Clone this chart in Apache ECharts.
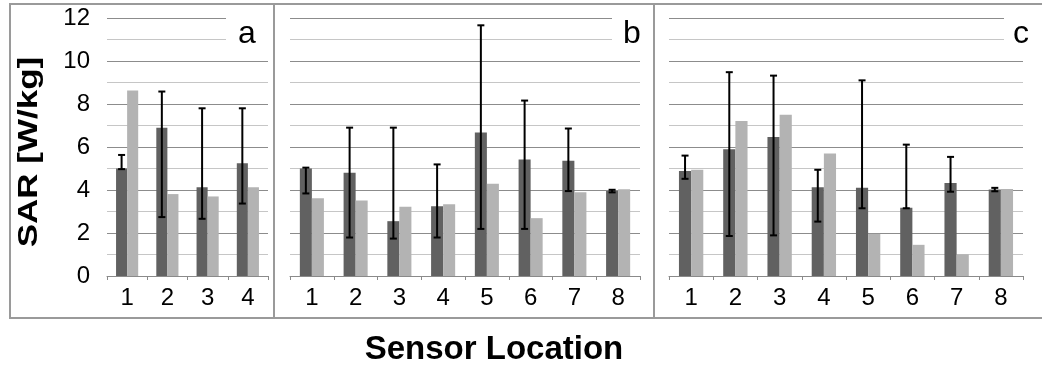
<!DOCTYPE html>
<html>
<head>
<meta charset="utf-8">
<script src="https://cdn.jsdelivr.net/npm/echarts@6/dist/echarts.min.js"></script>
<style>html,body{margin:0;padding:0;background:#fff;}#c{width:1042px;height:366px;}</style>
</head>
<body>
<div id="c"></div>
<script>
// Categories
var catsA = ['1','2','3','4'];
var catsBC = ['1','2','3','4','5','6','7','8'];
// Panel a
var aDark  = [5.0, 6.89, 4.13, 5.25];
var aLight = [8.63, 3.81, 3.70, 4.13];
var aLow   = [4.97, 2.74, 2.66, 3.37];
var aHigh  = [5.63, 8.58, 7.80, 7.80];
// Panel b
var bDark  = [5.0, 4.8, 2.55, 3.25, 6.68, 5.42, 5.36, 3.95];
var bLight = [3.62, 3.51, 3.22, 3.34, 4.29, 2.69, 3.89, 4.04];
var bLow   = [3.84, 1.79, 1.74, 1.79, 2.19, 2.19, 3.95, 3.89];
var bHigh  = [5.04, 6.9, 6.9, 5.19, 11.66, 8.16, 6.86, 4.01];
// Panel c
var cDark  = [4.88, 5.90, 6.46, 4.13, 4.10, 3.18, 4.33, 4.02];
var cLight = [4.94, 7.21, 7.5, 5.70, 1.96, 1.45, 1.01, 4.05];
var cLow   = [4.52, 1.86, 1.89, 2.53, 3.15, 3.15, 3.92, 3.94];
var cHigh  = [5.6, 9.48, 9.32, 4.94, 9.1, 6.11, 5.54, 4.1];
// Y ticks
var yMin = 0, yMax = 12, yStep = 2;
var panelLetters = ['a','b','c'];

var FONT = "'Liberation Sans', Arial, sans-serif";
var DARK = '#616161', LIGHT = '#b3b3b3';
var GAP = 0.45;

var grids = [
  {left: 107, top: 18, width: 161, height: 258},
  {left: 290, top: 18, width: 350, height: 258},
  {left: 669, top: 18, width: 354, height: 258}
];
var cats = [catsA, catsBC, catsBC];
var darks = [aDark, bDark, cDark];
var lights = [aLight, bLight, cLight];
var lows = [aLow, bLow, cLow];
var highs = [aHigh, bHigh, cHigh];

var xAxes = [], yAxes = [], series = [];
for (var k = 0; k < 3; k++) {
  xAxes.push({
    type: 'category', gridIndex: k, data: cats[k],
    axisLine: {lineStyle: {color: '#8a8a8a', width: 1}},
    axisTick: {show: true, length: 4, lineStyle: {color: '#8a8a8a'}},
    axisLabel: {fontFamily: FONT, fontSize: 24, color: '#000', margin: 10}
  });
  yAxes.push({
    type: 'value', gridIndex: k, min: yMin, max: yMax, interval: yStep,
    axisLine: {show: false}, axisTick: {show: false},
    axisLabel: {show: k === 0, fontFamily: FONT, fontSize: 24, color: '#000', margin: 17},
    splitLine: {lineStyle: {color: '#8c8c8c', width: 1}},
    minorTick: {show: false, splitNumber: 2},
    minorSplitLine: {show: true, lineStyle: {color: '#c6c6c6', width: 1}}
  });
  series.push({
    type: 'bar', xAxisIndex: k, yAxisIndex: k, data: darks[k],
    itemStyle: {color: DARK}, barGap: '0%', barCategoryGap: (GAP*100) + '%', z: 2
  });
  series.push({
    type: 'bar', xAxisIndex: k, yAxisIndex: k, data: lights[k],
    itemStyle: {color: LIGHT}, barGap: '0%', barCategoryGap: (GAP*100) + '%', z: 2
  });
  var errData = lows[k].map(function (lo, i) { return [i, lo, highs[k][i]]; });
  series.push({
    type: 'custom', xAxisIndex: k, yAxisIndex: k, data: errData, z: 5,
    encode: {x: 0, y: [1, 2]},
    renderItem: function (params, api) {
      var i = api.value(0);
      var top = api.coord([i, api.value(2)]);
      var bot = api.coord([i, api.value(1)]);
      var band = api.size([1, 0])[0];
      var bw = band * (1 - GAP) / 2;
      var cx = top[0] - bw / 2;
      var cap = 3.5;
      var st = {stroke: '#000', lineWidth: 2};
      return {type: 'group', children: [
        {type: 'line', shape: {x1: cx, y1: top[1], x2: cx, y2: bot[1]}, style: st},
        {type: 'line', shape: {x1: cx - cap, y1: top[1], x2: cx + cap, y2: top[1]}, style: st},
        {type: 'line', shape: {x1: cx - cap, y1: bot[1], x2: cx + cap, y2: bot[1]}, style: st}
      ]};
    }
  });
}

var graphic = [
  {type: 'rect', shape: {x: 10, y: 4, width: 1040, height: 314}, style: {fill: 'none', stroke: '#9a9a9a', lineWidth: 2}, z: 50},
  {type: 'line', shape: {x1: 274, y1: 4, x2: 274, y2: 318}, style: {stroke: '#9a9a9a', lineWidth: 2}, z: 50},
  {type: 'line', shape: {x1: 654, y1: 4, x2: 654, y2: 318}, style: {stroke: '#9a9a9a', lineWidth: 2}, z: 50},
  {type: 'rect', shape: {x: 226, y: 10, width: 45, height: 36}, style: {fill: '#fff'}, z: 40},
  {type: 'rect', shape: {x: 612, y: 10, width: 40, height: 36}, style: {fill: '#fff'}, z: 40},
  {type: 'rect', shape: {x: 1004, y: 10, width: 36, height: 36}, style: {fill: '#fff'}, z: 40},
  {type: 'text', x: 238, y: 34, z: 60, style: {text: panelLetters[0], font: '32px ' + FONT, fill: '#000', textAlign: 'left', textVerticalAlign: 'middle'}},
  {type: 'text', x: 623, y: 34, z: 60, style: {text: panelLetters[1], font: '32px ' + FONT, fill: '#000', textAlign: 'left', textVerticalAlign: 'middle'}},
  {type: 'text', x: 1013, y: 34, z: 60, style: {text: panelLetters[2], font: '32px ' + FONT, fill: '#000', textAlign: 'left', textVerticalAlign: 'middle'}},
  {type: 'text', x: 29, y: 152, rotation: Math.PI / 2, scaleY: 0.8, z: 60,
   style: {text: 'SAR [W/kg]', font: 'bold 35px ' + FONT, fill: '#000', textAlign: 'center', textVerticalAlign: 'middle'}},
  {type: 'text', x: 494, y: 350, z: 60,
   style: {text: 'Sensor Location', font: 'bold 33px ' + FONT, fill: '#000', textAlign: 'center', textVerticalAlign: 'middle'}}
];

var chart = echarts.init(document.getElementById('c'), null, {renderer: 'canvas'});
chart.setOption({
  animation: false,
  backgroundColor: '#fff',
  grid: grids,
  xAxis: xAxes,
  yAxis: yAxes,
  series: series,
  graphic: graphic
});
</script>
</body>
</html>
